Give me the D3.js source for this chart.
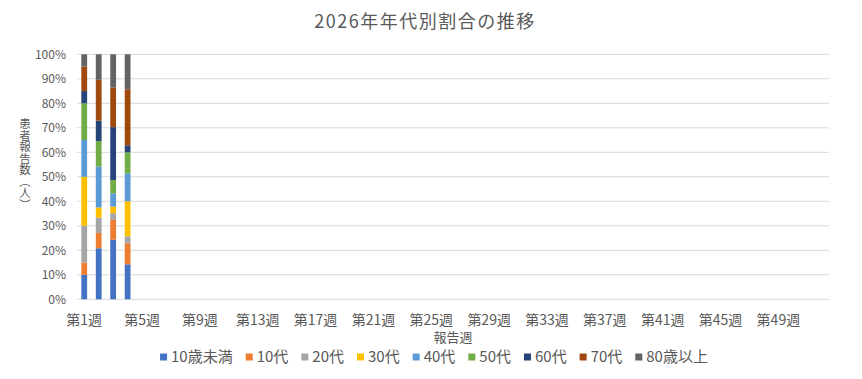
<!DOCTYPE html>
<html><head><meta charset="utf-8">
<script src="https://cdn.jsdelivr.net/npm/d3@7"></script>
<style>
html,body{margin:0;padding:0;background:#fff;}
text{font-family:"Noto Sans CJK JP","Noto Sans",sans-serif;fill:#595959;}
</style></head>
<body><svg id="c" width="862" height="379"></svg>
<script>
const titleText = "2026年年代別割合の推移";
const yTitle = "患者報告数（人）";
const xTitle = "報告週";
const weeks = d3.range(1, 53).map(i => "第" + i + "週");
const seriesNames = ["10歳未満","10代","20代","30代","40代","50代","60代","70代","80歳以上"];
const colors = ["#4472C4","#ED7D31","#A5A5A5","#FFC000","#5B9BD5","#70AD47","#264478","#9E480E","#636363"];
const s10u = [2,10,9,5];
const s10 = [1,3,3,3];
const s20 = [3,3,1,1];
const s30 = [4,2,1,5];
const s40 = [3,8,2,4];
const s50 = [3,5,2,3];
const s60 = [1,4,8,1];
const s70 = [2,8,6,8];
const s80 = [1,5,5,5];
const seriesValues = [s10u,s10,s20,s30,s40,s50,s60,s70,s80];
const yTicks = [0,0.1,0.2,0.3,0.4,0.5,0.6,0.7,0.8,0.9,1];

const svg = d3.select("#c");
const L = 77, R = 829, T = 54.3, B = 299.3;

const x = d3.scaleBand().domain(weeks).range([L, R]).paddingInner(0.6).paddingOuter(0.3);
const y = d3.scaleLinear().domain([0,1]).range([B, T]);

// grid
svg.append("g").selectAll("line").data(yTicks).join("line")
  .attr("x1", L).attr("x2", R)
  .attr("y1", d => y(d)).attr("y2", d => y(d))
  .attr("stroke", "#D9D9D9").attr("stroke-width", 1);

// y tick labels
svg.append("g").selectAll("text").data(yTicks).join("text")
  .attr("x", 66).attr("y", d => y(d)).attr("dy", "0.35em")
  .attr("text-anchor", "end").attr("font-size", 12)
  .text(d => d3.format(".0%")(d));

// stacked data (percent)
const rows = weeks.map((w, i) => {
  const r = {week: w};
  seriesNames.forEach((s, k) => { r[s] = seriesValues[k][i] !== undefined ? seriesValues[k][i] : 0; });
  return r;
});
const stack = d3.stack().keys(seriesNames).offset(d3.stackOffsetExpand);
const layers = stack(rows);

svg.append("g").selectAll("g").data(layers).join("g")
  .attr("fill", (d, i) => colors[i])
  .selectAll("rect").data(d => d.filter(p => p.data[d.key] > 0)).join("rect")
  .attr("x", p => x(p.data.week))
  .attr("width", x.bandwidth())
  .attr("y", p => y(p[1]))
  .attr("height", p => y(p[0]) - y(p[1]));

// x tick labels
svg.append("g").selectAll("text").data(weeks.filter((w, i) => i % 4 === 0)).join("text")
  .attr("x", d => x(d) + x.bandwidth()/2).attr("y", 325)
  .attr("text-anchor", "middle").attr("font-size", 14)
  .text(d => d);

// title
svg.append("text").attr("x", 425).attr("y", 28)
  .attr("text-anchor", "middle").attr("font-size", 18)
  .attr("letter-spacing", 1.5)
  .text(titleText);

// x title
svg.append("text").attr("x", (L+R)/2).attr("y", 342)
  .attr("text-anchor", "middle").attr("font-size", 13)
  .text(xTitle);

// y title, vertical writing
svg.append("text").attr("x", 25).attr("y", 164)
  .attr("text-anchor", "middle").attr("font-size", 11.5)
  .style("writing-mode", "vertical-rl")
  .text(yTitle);

// legend
const lg = svg.append("g");
const items = lg.selectAll("g").data(seriesNames).join("g");
items.append("rect").attr("width", 7).attr("height", 7).attr("y", -3.5)
  .attr("fill", (d, i) => colors[i]);
items.append("text").attr("x", 11).attr("dy", "0.35em").attr("font-size", 15).text(d => d);
let cx = 0; const gap = 13;
const pos = [];
items.each(function(d) {
  pos.push(cx);
  const w = 11 + d3.select(this).select("text").node().getComputedTextLength();
  cx += w + gap;
});
const total = cx - gap;
const startX = 434 - total/2;
items.attr("transform", (d, i) => `translate(${startX + pos[i]},357)`);
</script></body></html>
